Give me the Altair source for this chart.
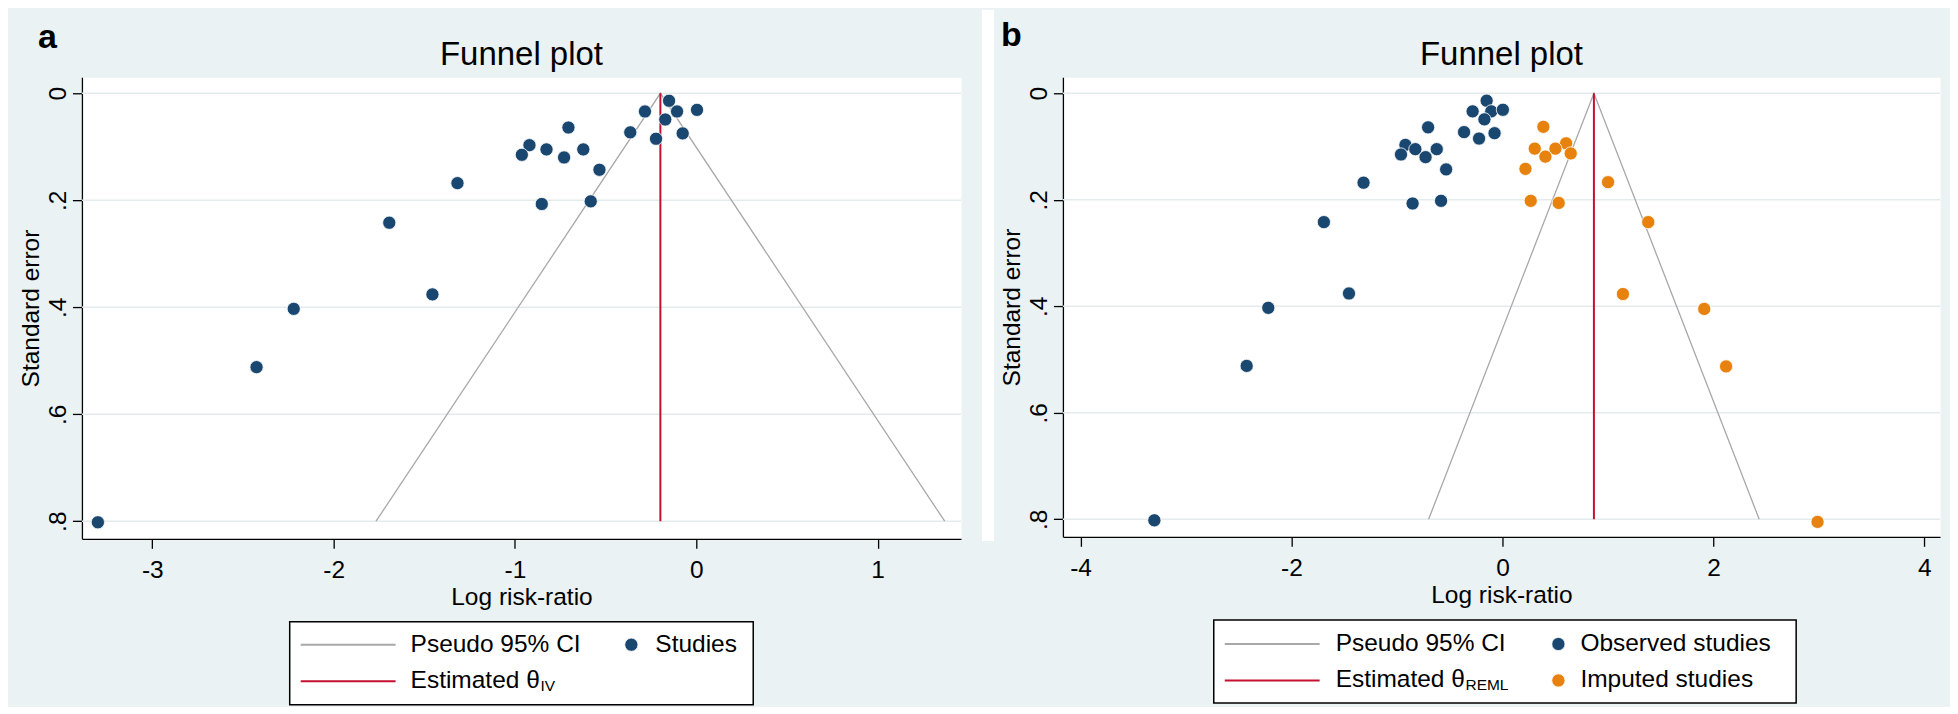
import altair as alt
import pandas as pd

# ---------------- data ----------------
obs_lrr = [-0.150, -0.283, -0.106, 0.004, -0.171, -0.705, -0.364, -0.075, -0.222,
           -0.920, -0.826, -0.623, -0.962, -0.729, -0.534, -1.317, -0.852, -0.582,
           -1.693, -1.455, -2.220, -2.425, -3.300]
obs_se = [0.014, 0.034, 0.034, 0.031, 0.049, 0.064, 0.073, 0.075, 0.085,
          0.097, 0.105, 0.105, 0.115, 0.120, 0.143, 0.168, 0.207, 0.202,
          0.242, 0.376, 0.403, 0.512, 0.802]
imp_lrr = [0.388, 0.306, 0.603, 0.502, 0.647, 0.407, 0.218, 1.001, 0.268, 0.533,
           1.382, 1.142, 1.913, 2.120, 2.987]
imp_se = [0.063, 0.104, 0.094, 0.104, 0.113, 0.119, 0.142, 0.167, 0.202, 0.206,
          0.242, 0.377, 0.405, 0.513, 0.805]

est_a = -0.198
ci_a_lrr = [-1.766, -0.198, 1.370]
est_b = 0.867
ci_b_lrr = [-0.700, 0.867, 2.434]
ci_se = [0.80, 0.0, 0.80]
est_se = [0.0, 0.80]
se_ticks = [0, 0.2, 0.4, 0.6, 0.8]
x_ticks_a = [-3, -2, -1, 0, 1]
x_ticks_b = [-4, -2, 0, 2, 4]

LBL_CI = "Pseudo 95% CI"
LBL_EST = "Estimated θ"
legend_a_dots = ["Studies"]
legend_b_dots = ["Observed studies", "Imputed studies"]

# ---------------- styles ----------------
FONT = "Liberation Sans, Arial, Helvetica, sans-serif"
BG = "#EAF2F3"
NAVY = "#1A476F"
ORANGE = "#E8820E"
RED = "#C4112F"
GRAY = "#A8A8A8"
GRID = "#E3EBED"
DOT = 175

one = pd.DataFrame({"k": [0]})


def vrect(x1, x2, y1, y2, **kw):
    return alt.Chart(one).mark_rect(**kw).encode(
        x=alt.value(x1), x2=alt.value(x2), y=alt.value(y1), y2=alt.value(y2))


def txt(s, x, y, size, weight="normal", align="left"):
    return alt.Chart(one).mark_text(
        text=s, font=FONT, fontSize=size, fontWeight=weight, align=align,
        baseline="alphabetic", color="black").encode(x=alt.value(x), y=alt.value(y))


def build_panel(letter, W, H, xdom, ydom, xticks, ci_lrr, est, points, fill_dom,
                fill_rng, ext, lines_leg, dots_leg, box, sub, sub_pos, letter_pos,
                title_y, strip=None):
    xs = alt.Scale(domain=xdom, nice=False, zero=False)
    ys = alt.Scale(domain=ydom, nice=False, zero=False, reverse=True)
    xaxis = alt.Axis(values=xticks, labelExpr="'' + datum.value", title="Log risk-ratio",
                     grid=False, tickSize=9.5, labelPadding=10, titlePadding=4)
    yaxis = alt.Axis(values=se_ticks,
                     labelExpr="datum.value == 0 ? '0' : replace('' + datum.value, '0.', '.')",
                     title="Standard error", grid=False, labelAngle=270,
                     labelAlign="center", labelBaseline="alphabetic", tickSize=9.5,
                     labelPadding=7, titlePadding=2)

    def X(f):
        return alt.X(f, type="quantitative", scale=xs, axis=xaxis)

    def Y(f):
        return alt.Y(f, type="quantitative", scale=ys, axis=yaxis)

    col = alt.Color("series:N",
                    scale=alt.Scale(domain=[LBL_CI, LBL_EST], range=[GRAY, RED]),
                    legend=alt.Legend(orient="none", legendX=lines_leg[0],
                                      legendY=lines_leg[1], direction="vertical",
                                      title=None, symbolType="M-9.5,0H0", symbolSize=400,
                                      symbolStrokeWidth=2, labelFont=FONT,
                                      labelFontSize=24.5, labelColor="black",
                                      labelOffset=lines_leg[2], rowPadding=11.5,
                                      padding=0, labelLimit=500, zindex=2))
    fil = alt.Fill("group:N",
                   scale=alt.Scale(domain=fill_dom, range=fill_rng),
                   legend=alt.Legend(orient="none", legendX=dots_leg[0],
                                     legendY=dots_leg[1], direction="vertical",
                                     title=None, symbolType="circle", symbolSize=DOT,
                                     symbolStrokeWidth=0.8, labelFont=FONT,
                                     labelFontSize=24.5, labelColor="black",
                                     labelOffset=dots_leg[2], rowPadding=11.5,
                                     padding=0, labelLimit=500, zindex=2))

    layers = []
    # invisible extent markers that fix the panel's bounds
    layers.append(vrect(ext[0], ext[0] + 1, ext[1], ext[1] + 1, color=BG))
    layers.append(vrect(ext[2] - 1, ext[2], ext[3] - 1, ext[3], color=BG))
    # legend frame
    layers.append(vrect(box[0], box[1], box[2], box[3], fill="white", stroke="black",
                        strokeWidth=1.5))
    # horizontal grid
    layers.append(alt.Chart(pd.DataFrame({"se": se_ticks})).mark_rule(
        color=GRID, strokeWidth=1.6).encode(y=Y("se")))
    # pseudo CI funnel
    ci_df = pd.DataFrame({"lrr": ci_lrr, "se": ci_se, "ord": [0, 1, 2],
                          "series": [LBL_CI] * 3})
    layers.append(alt.Chart(ci_df).mark_line(strokeWidth=1.3).encode(
        x=X("lrr"), y=Y("se"), order="ord:Q", color=col))
    # estimate line
    est_df = pd.DataFrame({"lrr": [est], "se0": [est_se[0]], "se1": [est_se[1]],
                           "series": [LBL_EST]})
    layers.append(alt.Chart(est_df).mark_rule(strokeWidth=2).encode(
        x=X("lrr"), y=Y("se0"), y2="se1", color=col))
    # studies
    layers.append(alt.Chart(points).mark_circle(size=DOT, opacity=1, stroke="white",
                                                strokeWidth=0.8).encode(
        x=X("lrr"), y=Y("se"), fill=fil))
    # texts
    layers.append(txt("Funnel plot", W / 2, title_y, 33, align="center"))
    layers.append(txt(letter, letter_pos[0], letter_pos[1], 34, weight="bold"))
    layers.append(txt(sub, sub_pos[0], sub_pos[1], 15.5))
    if strip is not None:
        layers.append(vrect(strip[0], strip[1], strip[2], strip[3], color="white"))
    return alt.layer(*layers).properties(width=W, height=H)


pts_a = pd.DataFrame({"lrr": obs_lrr, "se": obs_se, "group": "Studies"})
pts_b = pd.concat([
    pd.DataFrame({"lrr": obs_lrr, "se": obs_se, "group": "Observed studies"}),
    pd.DataFrame({"lrr": imp_lrr, "se": imp_se, "group": "Imputed studies"}),
], ignore_index=True)

panel_a = build_panel(
    "a", 880, 462, [-3.388, 1.460], [-0.0299, 0.8329], x_ticks_a, ci_a_lrr, est_a,
    pts_a, legend_a_dots, [NAVY],
    ext=(-73, -65, 899, 629),
    lines_leg=(301.75, 555.75, 2.75),
    dots_leg=(537.75, 555.75, 11.75),
    box=(208, 672, 545, 628),
    sub="IV", sub_pos=(459, 614), letter_pos=(-44, -29), title_y=-12)

panel_b = build_panel(
    "b", 878, 460, [-4.167, 4.148], [-0.0300, 0.8330], x_ticks_b, ci_b_lrr, est_b,
    pts_b, legend_b_dots, [NAVY, ORANGE],
    ext=(-81, -67.7, 887, 626.3),
    lines_leg=(244.75, 555.05, 3.75),
    dots_leg=(483.75, 555.05, 9.75),
    box=(151, 734, 543.3, 626.3),
    sub="REML", sub_pos=(403, 613.3), letter_pos=(-62, -31.7), title_y=-12,
    strip=(-81, -69, -67.7, 464.3))

chart = alt.hconcat(panel_a, panel_b, spacing=0).resolve_scale(
    x="independent", y="independent", color="independent", fill="independent"
).resolve_legend(color="independent", fill="independent").properties(
    padding=0, background=BG
).configure_view(fill="white", stroke="transparent").configure_axis(
    labelFont=FONT, titleFont=FONT, labelFontSize=24.5, titleFontSize=24.5,
    labelColor="black", titleColor="black", domainColor="black", tickColor="black",
    domainWidth=1.3, tickWidth=1.3, titleFontWeight="normal", zindex=1)

chart.save("out.html", embed_options={"renderer": "svg", "actions": False})
